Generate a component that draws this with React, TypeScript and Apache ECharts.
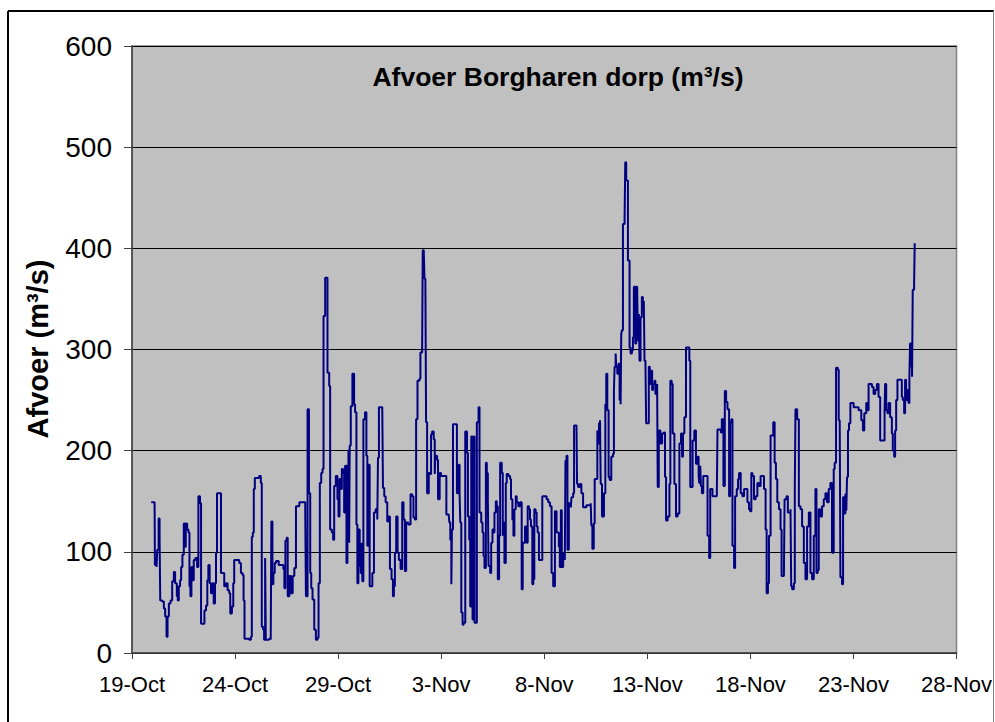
import React, { useEffect, useRef } from "react";
import * as echarts from "echarts";

// x values: hours since 19-Oct 00:00; y values: discharge (m3/s)
const xTickLabels = ["19-Oct", "24-Oct", "29-Oct", "3-Nov", "8-Nov", "13-Nov", "18-Nov", "23-Nov", "28-Nov"];
const yTicks = [0, 100, 200, 300, 400, 500, 600];
const titleText = "Afvoer Borgharen dorp (m³/s)";
const yAxisName = "Afvoer (m³/s)";

const period1: [number, number][] = [
  [22.4,149],[26.3,148],[26.7,87],[28.6,85],[29.4,102],[31.0,133],[32.1,115],[32.9,52],[35.2,51],[37.1,44],[38.6,36],[40.2,16],[41.4,36],[42.9,49],[44.8,52],[46.8,71],[48.7,80],[50.2,69],[52.2,56],[53.3,52],[54.5,66],[56.0,72],[57.2,85],[58.7,97],[60.3,128],[61.4,105],[62.6,128],[64.2,122],[65.7,119],[66.9,66],[68.0,56],[69.2,85],[70.3,72],[71.9,92],[73.8,94],[75.8,85],[77.3,155],[79.2,148],[80.4,29],[82.3,29],[84.3,42],[86.2,47],[87.7,72],[88.9,87],[90.4,69],[92.0,59],[93.5,69],[95.1,49],[96.6,69],[97.8,99],[99.0,158],[102.4,158],[103.6,79],[105.5,79],[107.4,66],[109.4,69],[111.3,62],[113.2,59],[114.4,39],[116.3,46],[117.9,69],[119.0,92],[121.0,92],[124.8,89],[126.8,79],[128.7,77],[129.9,52],[131.0,14],[136.4,13],[138.4,16],[139.5,115],[140.7,119],[141.8,162],[143.0,173],[148.0,175],[150.0,168],[151.1,26],[152.7,23],[153.8,13],[155.0,94],[155.8,13],[157.7,13],[159.6,14],[161.5,13]
];
const period2: [number, number][] = [
  [162.3,130],[163.5,68],[164.6,79],[166.2,89],[167.7,91],[170.8,87],[174.7,87],[176.2,83],[177.4,64],[178.6,111],[180.1,114],[181.3,56],[183.2,76],[185.1,59],[187.1,76],[189.0,84],[190.9,145],[194.8,149],[200.6,149],[201.7,139],[202.5,56],[204.4,241],[206.0,158],[207.5,79],[208.7,64],[210.2,53],[212.2,23],[214.1,13],[216.0,15],[217.2,69],[218.7,168],[220.3,178],[221.8,182],[223.0,333],[224.9,371],[226.5,371],[227.6,277],[229.6,264],[230.7,122],[232.7,119],[234.2,112],[235.4,165],[237.3,175],[239.2,152],[240.4,135],[241.6,172],[243.1,162],[244.3,182],[245.8,178],[247.0,139],[248.1,185],[249.7,89],[250.8,185],[252.0,201],[252.8,109],[253.5,205],[254.7,244],[256.6,276],[258.6,246],[259.7,238],[261.3,127],[262.4,69],[263.6,122],[265.1,86],[266.3,79],[267.4,109],[268.2,71],[269.4,231],[271.3,238],[272.9,195],[274.0,106],[275.2,186],[276.7,66],[278.3,66],[279.8,79],[281.7,139],[283.7,142],[285.6,132],[286.4,193],[287.5,243],[291.4,241],[292.2,163],[293.7,155],[295.3,149],[297.2,130],[298.4,135],[300.3,83],[302.2,73],[303.8,56],[304.9,66],[306.1,99],[307.6,135],[309.2,99],[310.7,92],[312.7,83],[314.6,149],[316.1,132],[317.7,81],[319.2,129],[321.6,127],[324.3,157],[326.2,155],[327.7,134],[329.3,132],[330.8,231],[332.4,269]
];
const period3: [number, number][] = [
  [334.7,271],[335.8,297],[337.8,300],[338.5,398],[339.7,398],[340.5,370],[341.6,363],[342.4,228],[343.6,158],[345.5,178],[346.7,177],[348.2,216],[349.4,219],[351.3,211],[352.5,177],[353.2,195],[355.2,191],[356.3,152],[358.2,178],[359.8,175],[364.8,175],[366.0,137],[368.7,137],[369.5,129],[370.6,112],[371.8,68],[372.5,122],[373.7,226],[376.4,226],[378.3,158],[380.3,186],[381.4,158],[382.2,129],[383.4,40],[384.9,28],[386.1,30],[388.0,219],[390.0,198],[391.1,135],[392.6,112],[393.8,46],[395.0,214],[396.5,33],[397.7,214],[398.8,30],[400.4,30],[401.5,228],[403.5,243],[404.6,139],[406.6,129],[408.1,119],[409.3,96],[410.4,84],[412.0,188],[413.1,178],[414.3,152],[415.1,86],[417.0,79],[418.2,109],[419.7,122],[420.9,119],[422.0,139],[423.6,150],[424.7,145],[425.9,73],[427.4,116],[428.6,188],[430.5,178],[431.7,116],[432.5,129],[433.6,89],[435.2,168],[436.3,177],[438.3,175],[440.2,172],[441.3,152],[442.9,132],[444.1,116],[445.2,142],[446.8,155],[447.9,149],[449.8,145],[451.8,149],[453.7,63],[454.9,109],[456.4,109],[457.6,125],[459.5,109],[460.7,145],[462.2,142],[463.4,132],[464.5,125],[466.1,68],[467.2,73],[468.4,142],[469.9,139],[471.1,125],[472.3,119],[473.8,92],[476.1,92],[477.7,155],[480.8,155],[482.7,152],[484.6,149],[486.6,145],[488.5,79],[490.4,66],[492.4,140],[494.3,119]
];
const period4: [number, number][] = [
  [497.0,105],[498.1,85],[499.3,141],[500.4,85],[502.0,98],[503.9,92],[504.7,190],[505.9,195],[507.0,102],[508.6,148],[510.9,144],[511.7,154],[513.6,158],[514.7,225],[517.5,225],[518.2,167],[519.4,164],[521.3,167],[523.2,158],[525.2,144],[529.0,146],[531.8,146],[534.1,148],[534.8,126],[536.0,103],[537.6,128],[538.7,172],[540.6,172],[541.8,220],[542.6,207],[543.7,227],[544.9,230],[545.7,167],[547.2,135],[548.4,135],[549.5,158],[551.1,246],[552.2,276],[553.4,240],[554.9,174],[556.1,171],[558.0,194],[560.0,197],[561.1,260],[561.9,283],[563.1,296],[563.8,283],[565.0,276],[566.5,286],[567.7,250],[568.9,246],[569.6,315],[570.4,319],[571.6,424],[573.5,428],[574.3,485],[575.4,468],[576.2,467],[577.4,388],[579.3,302],[580.5,296],[582.0,299],[583.2,312],[584.3,362],[585.9,306],[587.0,362],[588.2,358],[589.0,309],[590.1,335],[590.9,289],[592.1,332],[593.6,352],[594.8,347],[595.9,348],[596.7,289],[597.8,286],[598.6,227],[600.6,227],[601.7,283],[602.9,266],[604.4,279],[605.6,260],[606.7,266],[608.3,269],[609.4,256],[611.4,266],[612.1,164],[613.3,220],[615.2,207],[617.2,217],[619.1,218],[620.6,174],[621.8,131],[623.7,135],[625.7,167],[626.8,269],[628.4,266],[629.5,217],[631.5,167],[633.4,135],[635.3,138],[637.3,207],[639.2,217],[640.4,194],[641.5,217],[643.1,233],[645.0,302],[646.9,302],[648.9,289],[650.0,164],[651.6,164],[652.7,210],[654.7,220],[656.6,187],[658.5,194]
];
const period5: [number, number][] = [
  [659.7,175],[660.4,168],[661.6,185],[662.4,165],[663.5,158],[665.1,175],[668.2,175],[670.1,116],[672.0,94],[673.2,162],[675.9,155],[680.9,158],[681.7,221],[683.6,221],[685.6,218],[686.7,231],[688.6,165],[690.2,259],[691.7,248],[693.3,241],[695.2,155],[696.4,228],[697.9,231],[699.1,106],[701.0,84],[702.2,155],[704.1,162],[705.6,172],[706.8,178],[708.7,158],[710.7,155],[712.6,162],[714.5,162],[716.5,149],[718.4,142],[719.6,140],[721.1,178],[722.3,175],[724.2,152],[726.1,155],[728.1,168],[730.0,165],[731.9,175],[733.9,175],[735.8,162],[737.7,122],[738.9,59],[740.4,69],[741.6,116],[743.5,215],[745.5,215],[746.6,228],[748.2,188],[749.7,172],[751.3,149],[753.2,142],[755.1,122],[756.3,76],[759.0,76],[759.8,152],[762.1,155],[763.6,139],[766.7,142],[767.5,66],[768.6,63],[770.6,69],[771.7,165],[772.5,241],[774.4,231],[776.4,145],[778.3,142],[780.2,125],[782.2,89],[784.1,73],[786.0,125],[788.0,139],[789.9,79],[791.8,73],[793.8,116],[795.7,162],[796.9,79],[798.4,82],[799.6,142],[801.5,135],[803.4,145],[805.4,152],[807.3,158],[809.2,149],[811.2,162],[813.1,168],[815.0,99],[817.0,182],[818.1,188],[819.7,282],[820.8,282]
];
const period6: [number, number][] = [
  [821.7,280],[822.8,230],[824.0,227],[824.8,75],[826.7,68],[827.9,154],[829.4,138],[830.6,157],[831.7,141],[832.5,174],[833.6,220],[834.8,227],[836.4,247],[840.2,243],[844.1,243],[846.0,240],[848.0,240],[849.1,230],[851.0,220],[852.6,237],[854.9,247],[856.5,240],[857.6,266],[859.5,266],[861.5,263],[863.4,256],[865.3,260],[867.3,266],[869.2,253],[871.1,210],[873.1,210],[875.0,210],[876.2,240],[876.9,266],[878.1,240],[879.6,237],[880.8,247],[882.7,233],[884.7,217],[885.8,200],[887.4,194],[888.5,220],[889.7,250],[891.2,270],[893.6,270],[895.1,270],[896.3,253],[897.4,250],[899.0,237],[900.1,270],[901.3,250],[902.8,260],[904.0,247],[905.1,273],[905.9,306],[907.1,283],[908.2,273],[909.0,359],[910.6,365],[911.3,405]
];

const HOURS_PER_TICK = 120;

export default function App() {
  const ref = useRef<HTMLDivElement>(null);
  useEffect(() => {
    if (!ref.current) return;
    const chart = echarts.init(ref.current, null, { renderer: "svg" });
    const data = [...period1, ...period2, ...period3, ...period4, ...period5, ...period6];
    const font = "Arial, 'Liberation Sans', Helvetica, sans-serif";
    chart.setOption({
      animation: false,
      backgroundColor: "#ffffff",
      textStyle: { fontFamily: font },
      title: {
        text: titleText,
        left: 553,
        top: 58,
        textAlign: "center",
        textStyle: { fontFamily: font, fontSize: 26.5, fontWeight: "bold", color: "#000" },
      },
      grid: {
        left: 132,
        right: 36,
        top: 46,
        bottom: 69,
        show: true,
        backgroundColor: "#C0C0C0",
        borderColor: "#808080",
        borderWidth: 1.5,
      },
      xAxis: {
        type: "value",
        min: 0,
        max: HOURS_PER_TICK * (xTickLabels.length - 1),
        interval: HOURS_PER_TICK,
        axisLine: { show: true, onZero: false, lineStyle: { color: "#404040", width: 1.5 } },
        axisTick: { show: true, inside: false, length: 6, lineStyle: { color: "#404040" } },
        splitLine: { show: false },
        axisLabel: {
          margin: 20,
          fontSize: 22,
          color: "#000",
          fontFamily: font,
          formatter: (v: number) => xTickLabels[Math.round(v / HOURS_PER_TICK)] ?? "",
        },
      },
      yAxis: {
        type: "value",
        min: yTicks[0],
        max: yTicks[yTicks.length - 1],
        interval: 100,
        axisLine: { show: true, lineStyle: { color: "#404040", width: 1.5 } },
        axisTick: { show: true, inside: false, length: 8, lineStyle: { color: "#404040" } },
        splitLine: { show: true, lineStyle: { color: "#000000", width: 1 } },
        axisLabel: { margin: 20, fontSize: 28, color: "#000", fontFamily: font },
      },
      graphic: [
        {
          type: "text",
          x: 38,
          y: 349,
          rotation: Math.PI / 2,
          style: {
            text: yAxisName,
            font: `bold 29px ${font}`,
            fill: "#000",
            align: "center",
            verticalAlign: "middle",
          },
        },
        { type: "line", shape: { x1: 8, y1: 11, x2: 994, y2: 11 }, style: { stroke: "#000", lineWidth: 2 } },
        { type: "line", shape: { x1: 8, y1: 11, x2: 8, y2: 722 }, style: { stroke: "#000", lineWidth: 2 } },
        { type: "line", shape: { x1: 993.5, y1: 11, x2: 993.5, y2: 722 }, style: { stroke: "#808080", lineWidth: 1 } },
      ],
      series: [
        {
          type: "line",
          data,
          step: "end",
          showSymbol: false,
          symbol: "none",
          lineStyle: { color: "#000080", width: 2 },
          z: 3,
        },
      ],
    });
    return () => chart.dispose();
  }, []);
  return <div ref={ref} style={{ position: "absolute", left: 0, top: 0, width: 995, height: 722 }} />;
}
